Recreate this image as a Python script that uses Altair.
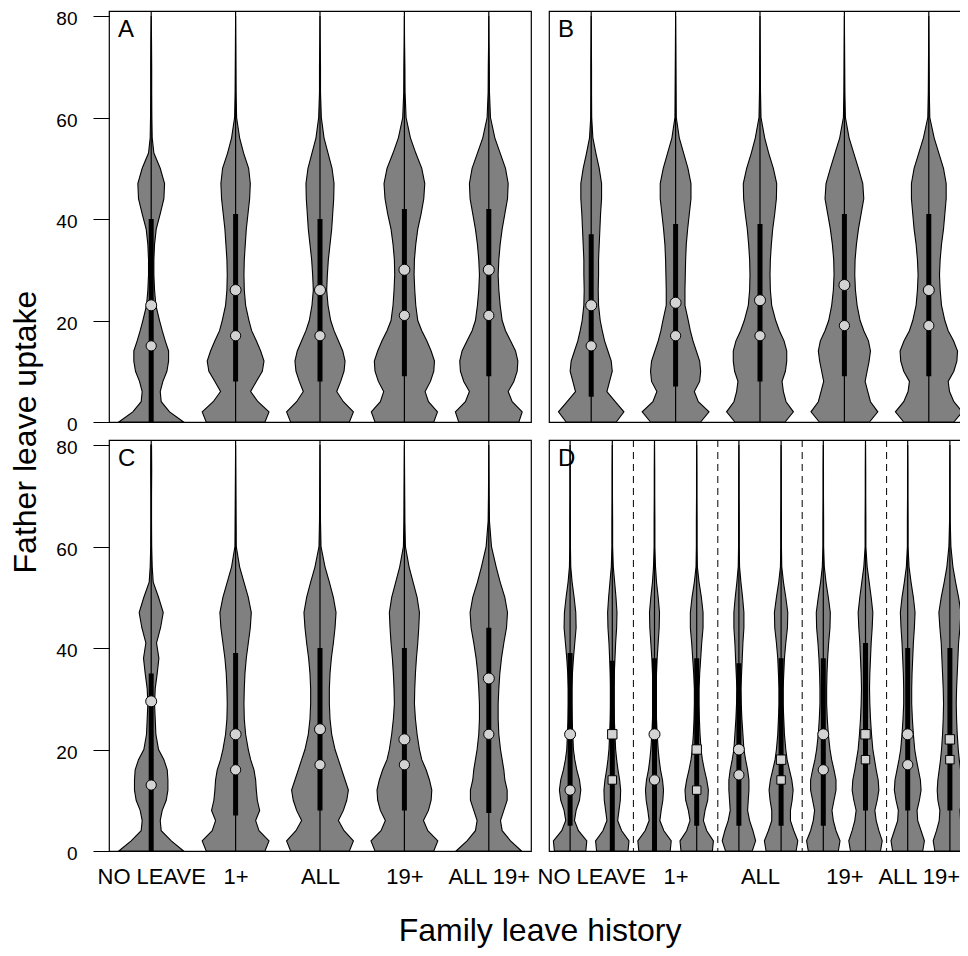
import json
import altair as alt
import pandas as pd

# ---------------- data ----------------
GROUPS = ["NO LEAVE", "1+", "ALL", "19+", "ALL 19+"]
Y_LEVELS = [0, 2, 4, 6, 8, 10, 12, 14, 16, 18, 20, 23, 26, 29, 32, 35, 38,
            41, 44, 47, 50, 53, 56, 60, 65, 70, 75, 80]
WHISKER_TOP = 100  # upper whiskers run past the top of the axis

# Panel A
GROUPS_A = GROUPS
COHORT_A = ["", "", "", "", ""]
DENSITY_A = [
    [97, 55, 30, 27, 35, 47, 52, 52, 42, 33, 25, 14, 10, 8, 8, 10, 15, 27, 38, 40, 27, 8, 3, 2, 1.5, 1.5, 1, 0],
    [88, 100, 67, 45, 62, 80, 85, 75, 62, 48, 40, 30, 26, 25, 26, 29, 32, 37, 42, 44, 39, 24, 12, 3, 1.5, 1, 0.5, 0],
    [88, 100, 70, 50, 62, 72, 75, 68, 55, 42, 32, 24, 20, 22, 25, 30, 35, 38, 41, 42, 36, 24, 12, 4, 1.5, 1.5, 0.5, 0],
    [88, 99, 72, 62, 78, 88, 90, 80, 67, 52, 40, 34, 31, 29, 30, 34, 40, 50, 58, 61, 52, 34, 18, 5, 2, 1.5, 0.5, 0],
    [90, 100, 70, 58, 75, 85, 87, 80, 65, 50, 40, 34, 30, 28, 30, 34, 40, 48, 56, 58, 50, 34, 18, 5, 2, 1.5, 0.5, 0],
]
Q1_A = [0, 8, 8, 9, 9]
Q3_A = [40, 41, 40, 42, 42]
MEAN_A = [23, 26, 26, 30, 30]
MEDIAN_A = [15, 17, 17, 21, 21]

# Panel B
GROUPS_B = GROUPS
COHORT_B = ["", "", "", "", ""]
DENSITY_B = [
    [75, 98, 72, 47, 55, 63, 60, 50, 40, 33, 27, 22, 21, 22, 22, 24, 26, 28, 31, 31, 24, 14, 5, 1.5, 1, 1, 0.5, 0],
    [75, 100, 68, 56, 72, 75, 72, 62, 52, 44, 38, 28, 28, 29, 30, 32, 36, 41, 46, 46, 37, 24, 11, 2, 1.5, 1, 0.5, 0],
    [75, 100, 78, 70, 66, 76, 80, 80, 72, 58, 47, 35, 31, 30, 31, 34, 38, 44, 49, 50, 40, 26, 14, 3, 1.5, 1, 0.5, 0],
    [75, 100, 78, 70, 62, 68, 74, 78, 72, 58, 47, 38, 33, 31, 32, 36, 42, 50, 58, 55, 42, 28, 14, 3, 1.5, 1, 0.5, 0],
    [75, 100, 75, 62, 58, 75, 84, 86, 74, 58, 48, 38, 34, 32, 34, 38, 44, 48, 52, 52, 44, 30, 16, 3, 1.5, 1, 0.5, 0],
]
Q1_B = [5, 7, 8, 9, 9]
Q3_B = [37, 39, 39, 41, 41]
MEAN_B = [23, 23.5, 24, 27, 26]
MEDIAN_B = [15, 17, 17, 19, 19]

# Panel C
GROUPS_C = GROUPS
COHORT_C = ["", "", "", "", ""]
DENSITY_C = [
    [97, 60, 30, 27, 33, 45, 50, 50, 48, 38, 22, 14, 12, 10, 12, 18, 23, 16, 28, 36, 22, 6, 3, 1.5, 1, 1, 1.5, 1],
    [88, 100, 70, 60, 72, 65, 62, 60, 55, 45, 38, 30, 26, 25, 26, 28, 32, 38, 44, 47, 38, 25, 12, 2, 1.5, 1, 0.5, 0],
    [88, 100, 72, 55, 70, 80, 85, 75, 65, 55, 45, 35, 30, 28, 28, 30, 34, 40, 45, 48, 40, 28, 15, 3, 1.5, 1, 0.5, 0],
    [88, 100, 70, 57, 72, 80, 82, 75, 65, 52, 45, 38, 33, 30, 31, 33, 36, 40, 43, 45, 38, 26, 14, 3, 1.5, 1, 0.5, 0],
    [98, 65, 40, 35, 45, 55, 55, 48, 45, 40, 35, 30, 28, 28, 30, 33, 38, 45, 53, 56, 48, 34, 22, 8, 2, 1, 0.5, 0],
]
Q1_C = [0, 7, 8, 8, 7.5]
Q3_C = [35, 39, 40, 40, 44]
MEAN_C = [29.5, 23, 24, 22, 34]
MEDIAN_C = [13, 16, 17, 17, 23]

# Panel D (two cohorts per leave group: circles and squares)
GROUPS_D = ["NO LEAVE", "NO LEAVE", "1+", "1+", "ALL", "ALL", "19+", "19+", "ALL 19+", "ALL 19+"]
COHORT_D = ["circle", "square"] * 5
DENSITY_D = [
    [47, 50, 25, 13, 18, 28, 32, 28, 20, 14, 10, 8, 6, 5, 5, 7, 10, 14, 18, 17, 12, 6, 2, 1, 1, 0.5, 0.5, 0],
    [47, 50, 28, 16, 20, 24, 25, 22, 17, 13, 10, 8, 6, 5, 5, 6, 8, 10, 13, 14, 11, 7, 3, 1, 1, 0.5, 0.5, 0],
    [47, 50, 28, 16, 20, 25, 27, 24, 18, 14, 11, 8, 6, 5, 5, 6, 8, 11, 14, 15, 11, 6, 3, 1, 1, 0.5, 0.5, 0],
    [47, 50, 30, 20, 25, 33, 35, 30, 23, 17, 13, 10, 8, 7, 7, 9, 12, 15, 19, 19, 14, 7, 2, 1, 1, 0.5, 0.5, 0],
    [40, 50, 42, 32, 26, 28, 30, 30, 26, 20, 15, 12, 9, 7, 6, 8, 10, 12, 15, 15, 11, 6, 2, 1, 1, 0.5, 0.5, 0],
    [45, 50, 38, 28, 28, 33, 36, 32, 25, 18, 14, 10, 8, 6, 6, 8, 10, 14, 19, 20, 14, 7, 2, 1, 1, 0.5, 0.5, 0],
    [45, 50, 38, 30, 26, 32, 38, 38, 32, 25, 20, 15, 12, 10, 10, 11, 13, 16, 20, 21, 15, 8, 3, 1, 1, 0.5, 0.5, 0],
    [45, 50, 40, 32, 28, 35, 40, 38, 32, 27, 22, 18, 15, 13, 12, 13, 15, 17, 20, 22, 17, 11, 5, 1, 1, 0.5, 0.5, 0],
    [45, 50, 40, 30, 28, 35, 40, 38, 32, 26, 21, 17, 14, 12, 12, 13, 15, 17, 20, 22, 17, 10, 4, 1, 1, 0.5, 0.5, 0],
    [45, 50, 40, 32, 30, 36, 38, 36, 32, 28, 25, 22, 20, 19, 20, 22, 24, 26, 30, 33, 26, 17, 9, 3, 1, 0.5, 0.5, 0],
]
Q1_D = [5, 0, 0, 5, 5, 5, 5, 8, 8, 8]
Q3_D = [39, 37.5, 38, 38, 37, 38, 38, 41, 40, 40]
MEAN_D = [23, 23, 23, 20, 20, 18, 23, 23, 23, 22]
MEDIAN_D = [12, 14, 14, 12, 15, 14, 16, 18, 17, 18]

DIVIDERS_D = [1.5, 2.5, 3.5, 4.5]

# ---------------- styling ----------------
FONT = "Liberation Sans"
VIOLIN_SCALE = 1 / 252.6          # density units -> x units (half width)
DODGE = {"": 0.0, "circle": -0.25, "square": 0.25}
W, H = 422, 411
VIOLIN_FILL = "#808080"
POINT_FILL = "#d3d3d3"

XSCALE = alt.Scale(domain=[0.5, 5.5], nice=False, zero=False)
YSCALE = alt.Scale(domain=[0, 81], nice=False, zero=False)

label_expr = "%s[round(datum.value) - 1]" % json.dumps(GROUPS)


def x_axis(last_shift=0):
    return alt.Axis(values=[1, 2, 3, 4, 5], labelExpr=label_expr, ticks=False, domain=False,
                    grid=False, labelFontSize=22, labelPadding=15, labelOverlap=False,
                    labelFlush=False, labelBound=False, title=None, labelColor="black",
                    labelFont=FONT,
                    labelOffset={"condition": {"test": "datum.value == 5", "value": last_shift},
                                 "value": 0})


Y_AXIS = alt.Axis(values=[0, 20, 40, 60, 80], tickSize=16, tickColor="black", tickWidth=1,
                  domain=False, grid=False, labelFontSize=19, labelPadding=16, labelOffset=2.5,
                  title=None, labelColor="black", labelFont=FONT, labelFlush=False,
                  labelBound=False)


def build_tables(groups, cohorts, dens, q1, q3, mean, med):
    shape_rows, box_rows, pt_rows = [], [], []
    for i, g in enumerate(groups):
        cx = GROUPS.index(g) + 1 + DODGE[cohorts[i]]
        marker = cohorts[i] or "circle"
        for y, d in zip(Y_LEVELS, dens[i]):
            shape_rows.append(dict(vid="v%d" % i, cx=cx, y=y, d=d))
        box_rows.append(dict(vid=i, cx=cx, q1=q1[i], q3=q3[i], lo=0, hi=WHISKER_TOP))
        pt_rows.append(dict(cx=cx, v=mean[i], key=marker + "-mean", marker=marker))
        pt_rows.append(dict(cx=cx, v=med[i], key=marker + "-median", marker=marker))
    shapes = pd.DataFrame(shape_rows)
    shapes["xl"] = shapes["cx"] - shapes["d"] * VIOLIN_SCALE
    shapes["xr"] = shapes["cx"] + shapes["d"] * VIOLIN_SCALE
    return shapes, pd.DataFrame(box_rows), pd.DataFrame(pt_rows)


def panel(letter, groups, cohorts, dens, q1, q3, mean, med, xax, show_y,
          dividers=None, extra=None):
    shapes, boxes, pts = build_tables(groups, cohorts, dens, q1, q3, mean, med)
    yax = Y_AXIS if show_y else None

    def X(f):
        return alt.X(f + ":Q", scale=XSCALE, axis=xax)

    def Y(f):
        return alt.Y(f + ":Q", scale=YSCALE, axis=yax)

    violins = alt.Chart(shapes).mark_area(
        orient="horizontal", fill=VIOLIN_FILL, stroke="black", strokeWidth=1.1,
        opacity=1, interpolate="linear").encode(
        y=Y("y"), x=X("xl"), x2=alt.X2("xr"), detail="vid:N")

    whisk = alt.Chart(boxes).mark_rule(color="black", strokeWidth=1.2, clip=True).encode(
        x=X("cx"), y=Y("lo"), y2=alt.Y2("hi"))

    iqr = alt.Chart(boxes).mark_rule(color="black", strokeWidth=5).encode(
        x=X("cx"), y=Y("q1"), y2=alt.Y2("q3"))

    points = alt.Chart(pts).mark_point(filled=True, color=POINT_FILL, stroke="black",
                                       strokeWidth=1, opacity=1).encode(
        x=X("cx"), y=Y("v"),
        shape=alt.Shape("marker:N", scale=alt.Scale(domain=["circle", "square"],
                                                    range=["circle", "square"]), legend=None),
        size=alt.Size("key:N", scale=alt.Scale(
            domain=["circle-mean", "circle-median", "square-mean", "square-median"],
            range=[121, 72, 90, 52]), legend=None))

    lab = alt.Chart(pd.DataFrame({"t": [letter]})).mark_text(
        align="left", baseline="alphabetic", fontSize=24, font=FONT, color="black").encode(
        x=alt.value(9), y=alt.value(26), text="t:N")

    layers = []
    if dividers is not None:
        layers.append(alt.Chart(pd.DataFrame({"d": dividers})).mark_rule(
            color="black", strokeWidth=1, strokeDash=[7, 5]).encode(x=X("d")))
    layers += [violins, whisk, iqr, points, lab]
    if extra:
        layers += extra
    return alt.layer(*layers).properties(width=W, height=H)


ytitle = alt.Chart(pd.DataFrame({"t": ["Father leave uptake"]})).mark_text(
    angle=270, align="center", baseline="middle", fontSize=32, font=FONT, color="black").encode(
    x=alt.value(-83), y=alt.value(-8), text="t:N")
xtitle = alt.Chart(pd.DataFrame({"t": ["Family leave history"]})).mark_text(
    align="center", baseline="alphabetic", fontSize=32, font=FONT, color="black").encode(
    x=alt.value(431), y=alt.value(501), text="t:N")

pA = panel("A", GROUPS_A, COHORT_A, DENSITY_A, Q1_A, Q3_A, MEAN_A, MEDIAN_A, None, True)
pB = panel("B", GROUPS_B, COHORT_B, DENSITY_B, Q1_B, Q3_B, MEAN_B, MEDIAN_B, None, False)
pC = panel("C", GROUPS_C, COHORT_C, DENSITY_C, Q1_C, Q3_C, MEAN_C, MEDIAN_C, x_axis(0), True,
           extra=[ytitle, xtitle])
pD = panel("D", GROUPS_D, COHORT_D, DENSITY_D, Q1_D, Q3_D, MEAN_D, MEDIAN_D, x_axis(-10), False,
           dividers=DIVIDERS_D)

# page: 968 wide with 8px margins -> svg at most 952 wide; 956 tall -> svg 940 tall
chart = alt.concat(pA, pB, pC, pD, columns=2, spacing=18, bounds="flush").properties(
    autosize=alt.AutoSizeParams(type="none"),
    padding={"left": 101, "top": 3, "right": 851, "bottom": 937},
    background="white",
).configure_view(stroke="black", strokeWidth=1.2).configure_axis(labelFont=FONT)

chart.save("out.html", embed_options={"renderer": "svg", "actions": False})
